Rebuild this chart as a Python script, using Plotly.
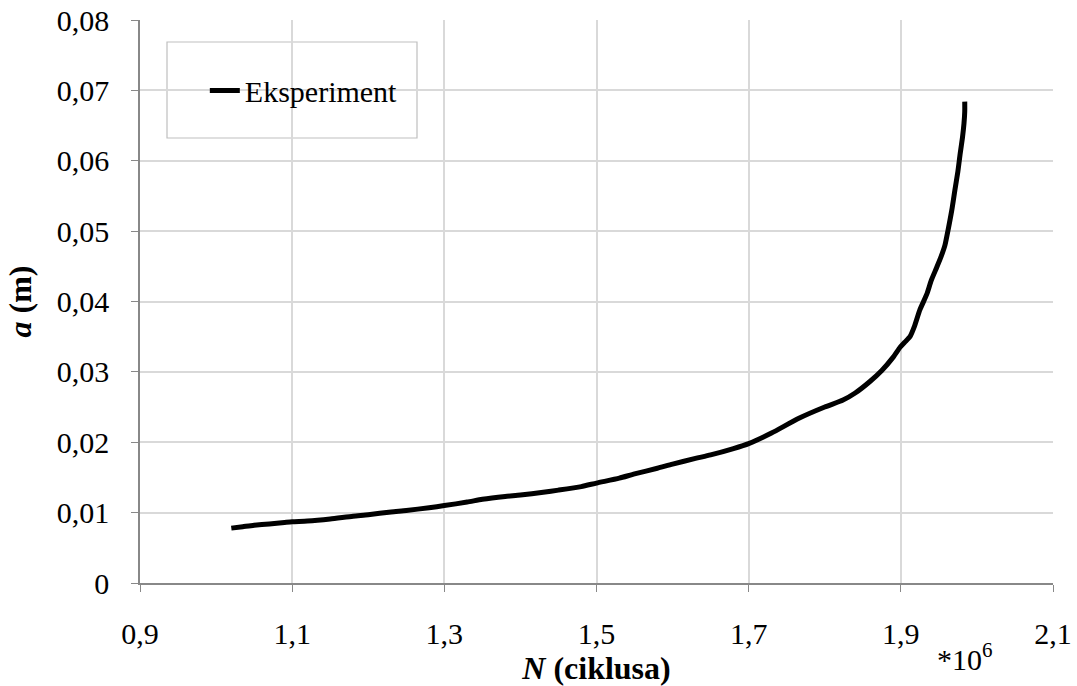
import plotly.graph_objects as go

# Data (N in 10^6 cycles, a in m)
N_cycles = [1.020, 1.035, 1.05, 1.07, 1.09, 1.10, 1.12, 1.15, 1.18, 1.20, 1.23, 1.25, 1.28, 1.30,
            1.33, 1.35, 1.38, 1.40, 1.43, 1.45, 1.48, 1.50, 1.53, 1.55, 1.58, 1.60, 1.63, 1.65,
            1.68, 1.70, 1.73, 1.766, 1.80, 1.824, 1.84, 1.859, 1.875, 1.890, 1.899, 1.905,
            1.912, 1.918, 1.925, 1.934, 1.940, 1.947, 1.953, 1.958, 1.962, 1.967, 1.971,
            1.975, 1.978, 1.981, 1.983, 1.984, 1.984]
a_crack = [0.0078, 0.0080, 0.0082, 0.0084, 0.0086, 0.0087, 0.0088, 0.0091, 0.0095, 0.0097, 0.0101,
           0.0103, 0.0107, 0.0110, 0.0115, 0.0119, 0.0123, 0.0125, 0.0129, 0.0132, 0.0137, 0.0142,
           0.0149, 0.0155, 0.0163, 0.0169, 0.0177, 0.0182, 0.0191, 0.0198, 0.0213, 0.0234,
           0.0250, 0.0260, 0.0270, 0.0286, 0.0302, 0.0321, 0.0335, 0.0342, 0.0350, 0.0365,
           0.0388, 0.0410, 0.0430, 0.0448, 0.0464, 0.0480, 0.0501, 0.0530, 0.0558, 0.0585,
           0.0610, 0.0633, 0.0653, 0.0670, 0.0684]

x_ticks = [0.9, 1.1, 1.3, 1.5, 1.7, 1.9, 2.1]
y_ticks = [0, 0.01, 0.02, 0.03, 0.04, 0.05, 0.06, 0.07, 0.08]

FONT = "Times New Roman, Liberation Serif, serif"
FS = 30

fig = go.Figure()
fig.add_trace(go.Scatter(
    x=N_cycles, y=a_crack, mode="lines", name="Eksperiment",
    line=dict(color="black", width=5, shape="spline", smoothing=0.6),
))

fig.update_layout(
    width=1077, height=686,
    margin=dict(l=140, r=24, t=20, b=103, autoexpand=False),
    plot_bgcolor="white", paper_bgcolor="white",
    separators=",.",
    font=dict(family=FONT, size=FS, color="black"),
    showlegend=True,
    legend=dict(x=0.071, y=0.875, xanchor="left", yanchor="middle",
                bgcolor="rgba(0,0,0,0)", borderwidth=0,
                font=dict(family=FONT, size=FS, color="black")),
    xaxis=dict(range=[0.9, 2.1], tickvals=x_ticks, showgrid=True, gridcolor="#d9d9d9",
               gridwidth=1.5, showline=True, linecolor="#888888", linewidth=1.5,
               ticks="outside", ticklen=7, tickcolor="#888888", zeroline=False,
               tickfont=dict(family=FONT, size=FS), ticklabelstandoff=16,
               ticklabeloverflow="allow", automargin=False,
               title=dict(text="<b><i>N</i> (ciklusa)</b>", standoff=0,
                          font=dict(family=FONT, size=FS + 2))),
    yaxis=dict(range=[0, 0.08], tickvals=y_ticks, showgrid=True, gridcolor="#d9d9d9",
               gridwidth=1.5, showline=True, linecolor="#888888", linewidth=1.5,
               ticks="outside", ticklen=7, tickcolor="#888888", zeroline=False,
               tickfont=dict(family=FONT, size=FS), ticklabelstandoff=16,
               ticklabeloverflow="allow", automargin=False,
               title=dict(text="<b><i>a</i> (m)</b>", standoff=16,
                          font=dict(family=FONT, size=FS + 2))),
)

# legend frame
fig.add_shape(type="rect", xref="paper", yref="paper",
              x0=(167 - 140) / 913, x1=(417 - 140) / 913,
              y0=(583 - 138) / 563, y1=(583 - 42) / 563,
              line=dict(color="#bfbfbf", width=1.2), fillcolor="white", layer="between")

fig.add_annotation(text="*10<sup>6</sup>", xref="paper", yref="paper",
                   x=(965 - 140) / 913, y=-(657 - 583) / 563, xanchor="center", yanchor="middle",
                   showarrow=False, font=dict(family=FONT, size=FS, color="black"))

fig.write_html("out.html", config={"displayModeBar": False},
               post_script="document.body.style.margin='0';")
